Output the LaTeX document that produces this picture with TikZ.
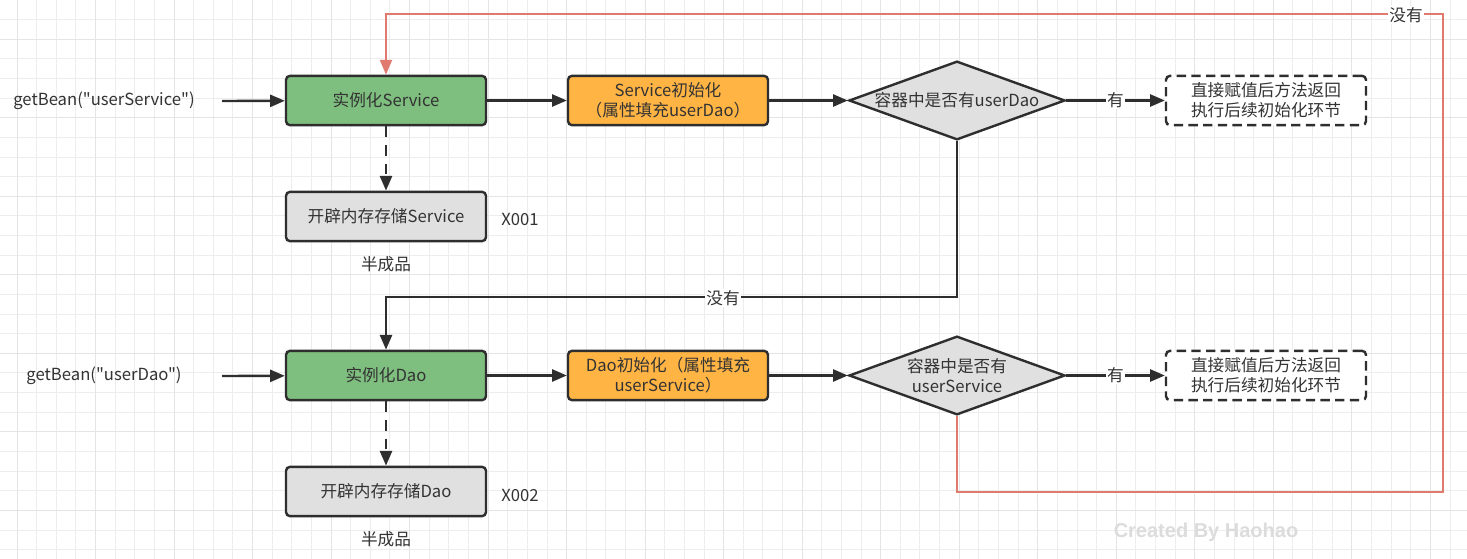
\documentclass[tikz,border=0pt]{standalone}
\usepackage{fontspec}
\setmainfont{Noto Sans CJK SC}
\newfontfamily\codefont{Noto Sans CJK SC}
\newfontfamily\markfont{Liberation Sans}
\usetikzlibrary{shapes.geometric,arrows.meta}
\definecolor{linec}{HTML}{2E2E2E}
\definecolor{textc}{HTML}{333333}
\definecolor{greenc}{HTML}{7EBE7E}
\definecolor{orangec}{HTML}{FFB444}
\definecolor{grayc}{HTML}{E0E0E0}
\definecolor{loopc}{HTML}{E07A6E}
\definecolor{gridlight}{HTML}{EDEDED}
\definecolor{griddark}{HTML}{E5E5E5}
\definecolor{markc}{HTML}{DCDCDC}

\begin{document}
\begin{tikzpicture}[x=0.75pt, y=-0.75pt,
	font=\fontsize{12.5}{15}\selectfont, text=textc,
	box/.style={draw=linec, line width=1.8pt, rounded corners=3pt, minimum width=150pt, minimum height=37pt, align=center, inner sep=2pt},
	greenbox/.style={box, fill=greenc},
	orangebox/.style={box, fill=orangec},
	graybox/.style={box, fill=grayc},
	dashbox/.style={box, fill=white, dash pattern=on 7pt off 4pt},
	decision/.style={diamond, draw=linec, line width=1.8pt, fill=grayc, aspect=2.68, minimum width=162pt, minimum height=59pt, inner sep=0pt, align=center},
	arr/.style={-{Triangle[length=11pt,width=9pt]}, line width=1.8pt, draw=linec},
	looparr/.style={-{Triangle[length=11pt,width=9pt]}, line width=1.4pt, draw=loopc},
	lbl/.style={inner sep=1pt, fill=white}]
	\useasboundingbox (0,0) rectangle (1467,559);
	\fill[white] (0,0) rectangle (1467,559);
	\foreach \k in {0,...,74} \draw[gridlight, line width=0.75pt] (17+19.63*\k,0) -- (17+19.63*\k,559);
	\foreach \k in {0,...,28} \draw[gridlight, line width=0.75pt] (0,19.63*\k) -- (1467,19.63*\k);
	\foreach \k in {0,4,...,72} \draw[griddark, line width=0.75pt] (17+19.63*\k,0) -- (17+19.63*\k,559);
	\foreach \k in {2,6,...,26} \draw[griddark, line width=0.75pt] (0,19.63*\k) -- (1467,19.63*\k);

	\node[font=\codefont\fontsize{12.5}{15}\selectfont] (callSvc) at (104,101) {getBean("userService")};
	\coordinate (svcIn) at (222,101);
	\node[greenbox] (instSvc) at (386,100.5) {实例化Service};
	\node[orangebox] (initSvc) at (668,100.5) {Service初始化\\（属性填充userDao）};
	\node[decision] (hasDao) at (957,100.5) {容器中是否有userDao};
	\node[dashbox] (doneSvc) at (1266,100.5) {直接赋值后方法返回\\执行后续初始化环节};
	\node[graybox] (memSvc) at (386,216.5) {开辟内存存储Service};
	\node (idSvc) at (520,220) {X001};
	\node (halfSvc) at (386,264) {半成品};

	\node[font=\codefont\fontsize{12.5}{15}\selectfont] (callDao) at (104,376) {getBean("userDao")};
	\coordinate (daoIn) at (222,376);
	\node[greenbox] (instDao) at (386,375.5) {实例化Dao};
	\node[orangebox] (initDao) at (668,375.5) {Dao初始化（属性填充\\userService）};
	\node[decision] (hasSvc) at (957,375.5) {容器中是否有\\userService};
	\node[dashbox] (doneDao) at (1266,375.5) {直接赋值后方法返回\\执行后续初始化环节};
	\node[graybox] (memDao) at (386,491.5) {开辟内存存储Dao};
	\node (idDao) at (520,495) {X002};
	\node (halfDao) at (386,539) {半成品};

	\draw[arr] (svcIn) -- (instSvc);
	\draw[arr] (instSvc) -- (initSvc);
	\draw[arr] (initSvc) -- (hasDao);
	\draw[arr] (hasDao) -- node[lbl] {有} (doneSvc);
	\draw[arr, dash pattern=on 8pt off 6pt] (instSvc) -- (memSvc);
	\coordinate (noDaoTurn) at (957,297);
	\draw[arr] (hasDao.south) -- (noDaoTurn) -| (instDao.north);
	\node[lbl] (noDao) at (723,298) {没有};

	\draw[arr] (daoIn) -- (instDao);
	\draw[arr] (instDao) -- (initDao);
	\draw[arr] (initDao) -- (hasSvc);
	\draw[arr] (hasSvc) -- node[lbl] {有} (doneDao);
	\draw[arr, dash pattern=on 8pt off 6pt] (instDao) -- (memDao);
	\coordinate (loopBR) at (1443,492);
	\coordinate (loopTR) at (1443,14);
	\draw[looparr] (hasSvc.south) |- (loopBR) -- (loopTR) -| (instSvc.north);
	\node[lbl] (noSvc) at (1406,15) {没有};

	\node[markc, font=\markfont\bfseries\fontsize{15}{17}\selectfont] (mark) at (1206,532) {Created By Haohao};
\end{tikzpicture}
\end{document}
